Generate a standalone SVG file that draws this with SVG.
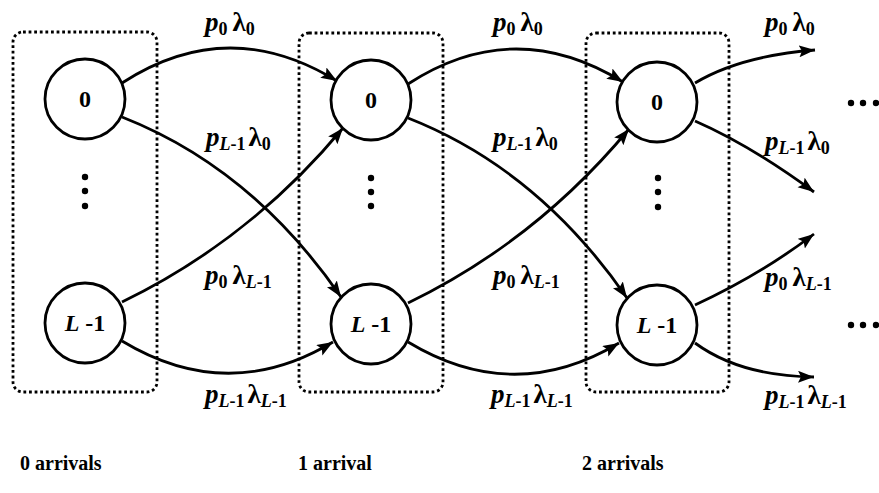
<svg xmlns="http://www.w3.org/2000/svg" width="879" height="493" viewBox="0 0 879 493">
<defs>
<marker id="ah" markerUnits="userSpaceOnUse" markerWidth="18" markerHeight="14" refX="16" refY="6" orient="auto">
<path d="M0,0 L16,6 L0,12 L3,6 Z" fill="#000"/>
</marker>
<style>
.box{fill:none;stroke:#000;stroke-width:2.8;stroke-dasharray:2.8 2.8}
.node{fill:#fff;stroke:#000;stroke-width:2.8}
.edge{fill:none;stroke:#000;stroke-width:2.8;marker-end:url(#ah)}
.lbl{font-family:"Liberation Serif",serif;font-size:27px;font-weight:bold;fill:#000}
.it{font-style:italic}
.sub{font-size:18px}
.nt{font-family:"Liberation Serif",serif;font-size:24px;font-weight:bold;fill:#000;text-anchor:middle}
.cap{font-family:"Liberation Serif",serif;font-size:20px;font-weight:bold;fill:#000}
.dot{fill:#000}
</style>
</defs>
<rect fill="#fff" x="0" y="0" width="879" height="493"/>
<g id="groups">
<rect class="box" x="13" y="32" width="144" height="360" rx="10"/>
<rect class="box" x="299" y="33" width="144" height="359" rx="10"/>
<rect class="box" x="586" y="33" width="143" height="359" rx="10"/>
</g>
<g id="connectors">
<path class="edge" d="M122,83 Q228,14 337,81"/>
<path class="edge" d="M122,117 Q252,168 341,297"/>
<path class="edge" d="M122,302 Q250,240 343,128"/>
<path class="edge" d="M122,341 Q228,405 333,342"/>
<path class="edge" d="M408,84 Q514,15 623,82"/>
<path class="edge" d="M408,118 Q538,169 627,298"/>
<path class="edge" d="M408,303 Q536,241 629,129"/>
<path class="edge" d="M408,342 Q514,406 619,343"/>
<path class="edge" d="M695,83 Q740,56 815,50"/>
<path class="edge" d="M695,121 Q750,145 814,192"/>
<path class="edge" d="M695,305 Q760,275 814,234"/>
<path class="edge" d="M695,343 Q740,376 814,377"/>
</g>
<g id="n0a"><circle class="node" cx="85" cy="99" r="40"/><text class="nt" x="85" y="107">0</text></g>
<g id="nLa"><circle class="node" cx="85" cy="323" r="40"/><text class="nt" x="85" y="331"><tspan class="it">L</tspan> -1</text></g>
<g id="n0b"><circle class="node" cx="371" cy="100" r="40"/><text class="nt" x="371" y="108">0</text></g>
<g id="nLb"><circle class="node" cx="371" cy="324" r="40"/><text class="nt" x="371" y="332"><tspan class="it">L</tspan> -1</text></g>
<g id="n0c"><circle class="node" cx="657" cy="102" r="40"/><text class="nt" x="657" y="110">0</text></g>
<g id="nLc"><circle class="node" cx="657" cy="325" r="40"/><text class="nt" x="657" y="333"><tspan class="it">L</tspan> -1</text></g>
<g id="vdots">
<circle class="dot" cx="85" cy="177" r="3.2"/><circle class="dot" cx="85" cy="191" r="3.2"/><circle class="dot" cx="85" cy="206" r="3.2"/>
<circle class="dot" cx="371" cy="178" r="3.2"/><circle class="dot" cx="371" cy="192" r="3.2"/><circle class="dot" cx="371" cy="206" r="3.2"/>
<circle class="dot" cx="658" cy="178" r="3.2"/><circle class="dot" cx="658" cy="192" r="3.2"/><circle class="dot" cx="658" cy="207" r="3.2"/>
</g>
<g id="hdots">
<circle class="dot" cx="851" cy="103" r="3.2"/><circle class="dot" cx="863" cy="103" r="3.2"/><circle class="dot" cx="876" cy="103" r="3.2"/>
<circle class="dot" cx="851" cy="325" r="3.2"/><circle class="dot" cx="863" cy="325" r="3.2"/><circle class="dot" cx="876" cy="325" r="3.2"/>
</g>
<g id="labels">
<text class="lbl" x="205" y="31"><tspan class="it">p</tspan><tspan class="sub" dy="4">0</tspan><tspan dx="5" dy="-4">λ</tspan><tspan class="sub" dy="4">0</tspan></text>
<text class="lbl" x="206" y="146"><tspan class="it">p</tspan><tspan class="sub it" dy="4">L</tspan><tspan class="sub">-1</tspan><tspan dx="3" dy="-4">λ</tspan><tspan class="sub" dy="4">0</tspan></text>
<text class="lbl" x="205" y="284"><tspan class="it">p</tspan><tspan class="sub" dy="4">0</tspan><tspan dx="5" dy="-4">λ</tspan><tspan class="sub it" dy="4">L</tspan><tspan class="sub">-1</tspan></text>
<text class="lbl" x="205" y="403"><tspan class="it">p</tspan><tspan class="sub it" dy="4">L</tspan><tspan class="sub">-1</tspan><tspan dx="3" dy="-4">λ</tspan><tspan class="sub it" dy="4">L</tspan><tspan class="sub">-1</tspan></text>

<text class="lbl" x="493" y="31"><tspan class="it">p</tspan><tspan class="sub" dy="4">0</tspan><tspan dx="5" dy="-4">λ</tspan><tspan class="sub" dy="4">0</tspan></text>
<text class="lbl" x="493" y="146"><tspan class="it">p</tspan><tspan class="sub it" dy="4">L</tspan><tspan class="sub">-1</tspan><tspan dx="3" dy="-4">λ</tspan><tspan class="sub" dy="4">0</tspan></text>
<text class="lbl" x="493" y="284"><tspan class="it">p</tspan><tspan class="sub" dy="4">0</tspan><tspan dx="5" dy="-4">λ</tspan><tspan class="sub it" dy="4">L</tspan><tspan class="sub">-1</tspan></text>
<text class="lbl" x="491" y="403"><tspan class="it">p</tspan><tspan class="sub it" dy="4">L</tspan><tspan class="sub">-1</tspan><tspan dx="3" dy="-4">λ</tspan><tspan class="sub it" dy="4">L</tspan><tspan class="sub">-1</tspan></text>

<text class="lbl" x="765" y="31"><tspan class="it">p</tspan><tspan class="sub" dy="4">0</tspan><tspan dx="5" dy="-4">λ</tspan><tspan class="sub" dy="4">0</tspan></text>
<text class="lbl" x="765" y="150"><tspan class="it">p</tspan><tspan class="sub it" dy="4">L</tspan><tspan class="sub">-1</tspan><tspan dx="3" dy="-4">λ</tspan><tspan class="sub" dy="4">0</tspan></text>
<text class="lbl" x="765" y="286"><tspan class="it">p</tspan><tspan class="sub" dy="4">0</tspan><tspan dx="5" dy="-4">λ</tspan><tspan class="sub it" dy="4">L</tspan><tspan class="sub">-1</tspan></text>
<text class="lbl" x="765" y="404"><tspan class="it">p</tspan><tspan class="sub it" dy="4">L</tspan><tspan class="sub">-1</tspan><tspan dx="3" dy="-4">λ</tspan><tspan class="sub it" dy="4">L</tspan><tspan class="sub">-1</tspan></text>
</g>
<g id="captions">
<text class="cap" x="20" y="470">0 arrivals</text>
<text class="cap" x="298" y="470">1 arrival</text>
<text class="cap" x="582" y="470">2 arrivals</text>
</g>
</svg>
